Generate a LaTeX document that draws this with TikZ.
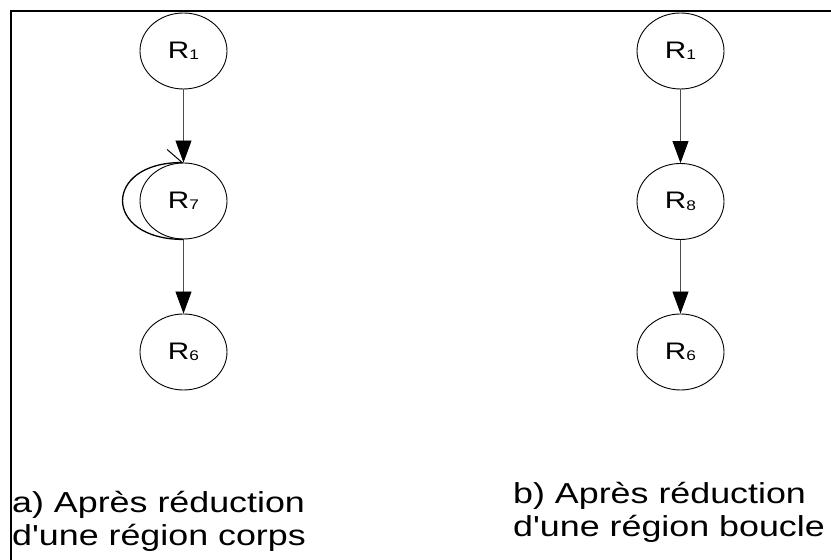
\documentclass[tikz,border=0pt]{standalone}
\usepackage{fontspec}
\setmainfont{Liberation Sans}
\newfontfamily\widefont[FakeStretch=1.24]{Liberation Sans}
\usetikzlibrary{shapes.geometric,arrows.meta}

% region label: R with a small index
\newcommand{\regname}[1]{\widefont R\raisebox{-1.5bp}{\fontsize{14}{14}\selectfont #1}}

\tikzset{
  region/.style={draw=black, line width=0.9bp, ellipse, minimum width=87bp,
    minimum height=76bp, inner sep=0pt, font=\fontsize{24}{26}\selectfont},
  flow/.style={draw=black!70, line width=0.9bp,
    -{Triangle[length=22bp,width=16bp,fill=black,color=black]}},
  selfloop/.style={draw=black, line width=1.3bp,
    -{Straight Barb[harpoon,length=15bp,width=26bp,line width=1bp]}},
  caption/.style={anchor=base west, inner sep=0pt,
    font=\fontsize{29}{33}\widefont},
  frame/.style={line width=2bp, draw=black}
}

\begin{document}
\begin{tikzpicture}[x=1bp,y=1bp]
  \useasboundingbox (0,0) rectangle (831,560);

  % outer frame (only top and left edges fall on the page)
  \draw[frame] (11,-10) -- (11,549) -- (850,549);

  % a) after reducing a body region
  \node[region] (a1) at (183.5,509) {\regname{1}};
  \node[region] (a7) at (183.5,359) {\regname{7}};
  \node[region] (a6) at (183.5,208) {\regname{6}};
  \draw[flow] (a1) -- (a7);
  \draw[flow] (a7) -- (a6);
  \draw[selfloop] (a7.south) to[out=180,in=180,looseness=2.7] (a7.north);

  % b) after reducing a loop region
  \node[region] (b1) at (680.5,509) {\regname{1}};
  \node[region] (b8) at (680.5,358.5) {\regname{8}};
  \node[region] (b6) at (680.5,208) {\regname{6}};
  \draw[flow] (b1) -- (b8);
  \draw[flow] (b8) -- (b6);

  % captions
  \node[caption] (capa1) at (12,47) {a) Après réduction};
  \node[caption] (capa2) at (12,14) {d'une région corps};
  \node[caption] (capb1) at (513,56) {b) Après réduction};
  \node[caption] (capb2) at (513,23) {d'une région boucle};
\end{tikzpicture}
\end{document}
